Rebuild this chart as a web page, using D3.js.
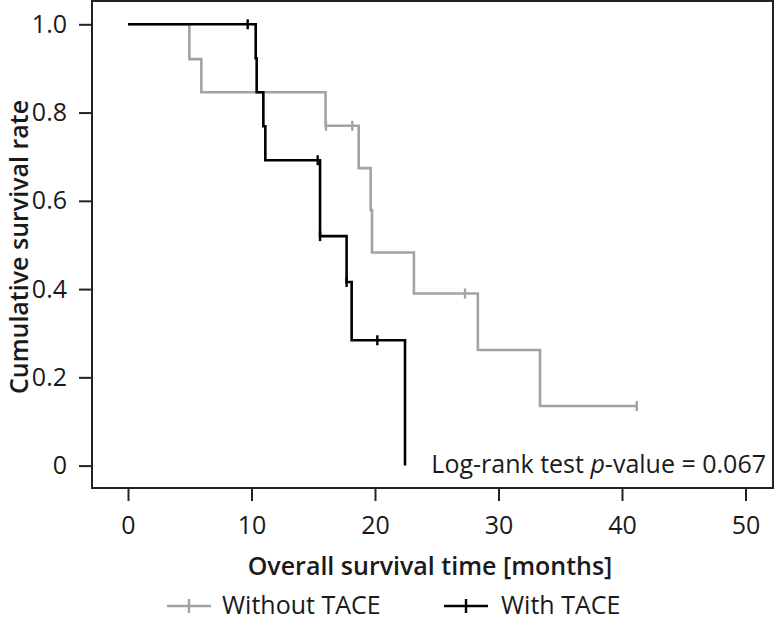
<!DOCTYPE html>
<html>
<head>
<meta charset="utf-8">
<script src="https://cdn.jsdelivr.net/npm/d3@7"></script>
<style>
  html, body { margin: 0; padding: 0; background: #fff; }
  svg { display: block; }
  text { font-family: "Open Sans", sans-serif; fill: #1a1a1a; }
</style>
</head>
<body>
<svg id="chart" width="780" height="621"></svg>
<script>
// ---- Data ----
const seriesNames = ["Without TACE", "With TACE"];
const seriesColors = ["#a3a3a3", "#000000"];

// Without TACE: event times and survival after each step
const withoutTimes = [0, 4.97, 5.94, 16.0, 18.68, 19.65, 19.76, 23.15, 28.33, 33.36];
const withoutSurv  = [1.0, 0.921, 0.846, 0.770, 0.674, 0.579, 0.483, 0.390, 0.262, 0.135];
const withoutEnd = 41.2;
const withoutCensor = [16.03, 18.16, 27.29, 41.2];

// With TACE
const withTimes = [0, 10.34, 10.42, 10.96, 11.12, 15.55, 17.7, 18.11, 22.43];
const withSurv  = [1.0, 0.923, 0.846, 0.769, 0.692, 0.520, 0.416, 0.284, 0.0];
const withEnd = 22.43;
const withCensor = [9.69, 15.36, 15.55, 17.7, 20.19];

const xTicks = [0, 10, 20, 30, 40, 50];
const yTicks = [0, 0.2, 0.4, 0.6, 0.8, 1.0];
const yTickLabels = ["0", "0.2", "0.4", "0.6", "0.8", "1.0"];

// ---- Layout ----
const frame = { left: 92, right: 773, top: 1, bottom: 488 };
const svg = d3.select("#chart");

const x = d3.scaleLinear().domain([0, 50]).range([128, 745.5]);
const y = d3.scaleLinear().domain([0, 1]).range([465.6, 24.3]);

// Frame
svg.append("rect")
  .attr("x", frame.left).attr("y", frame.top)
  .attr("width", frame.right - frame.left)
  .attr("height", frame.bottom - frame.top)
  .attr("fill", "none").attr("stroke", "#222").attr("stroke-width", 2);

// X axis (ticks outside bottom of frame)
const xAxis = d3.axisBottom(x).tickValues(xTicks).tickSize(13).tickPadding(15).tickFormat(d3.format("d"));
const gx = svg.append("g").attr("transform", `translate(0,${frame.bottom})`).call(xAxis);
gx.select(".domain").remove();
gx.selectAll(".tick line").attr("stroke", "#222").attr("stroke-width", 2);
gx.selectAll(".tick text").attr("font-size", 25).attr("font-family", "Open Sans").attr("fill", "#1a1a1a");

// Y axis
const yAxis = d3.axisLeft(y).tickValues(yTicks).tickSize(13).tickPadding(12)
  .tickFormat((d, i) => yTickLabels[i]);
const gy = svg.append("g").attr("transform", `translate(${frame.left},0)`).call(yAxis);
gy.select(".domain").remove();
gy.selectAll(".tick line").attr("stroke", "#222").attr("stroke-width", 2);
gy.selectAll(".tick text").attr("font-size", 25).attr("font-family", "Open Sans").attr("fill", "#1a1a1a");

// Axis titles
svg.append("text")
  .attr("x", 430).attr("y", 575)
  .attr("text-anchor", "middle")
  .attr("font-size", 25).attr("font-weight", 600)
  .text("Overall survival time [months]");

svg.append("text")
  .attr("transform", "translate(28,247) rotate(-90)")
  .attr("text-anchor", "middle")
  .attr("font-size", 25).attr("font-weight", 600)
  .text("Cumulative survival rate");

// Step curves
function stepPoints(times, surv, end) {
  const pts = times.map((t, i) => [t, surv[i]]);
  pts.push([end, surv[surv.length - 1]]);
  return pts;
}
function survAt(times, surv, t) {
  let s = surv[0];
  for (let i = 0; i < times.length; i++) if (times[i] <= t) s = surv[i];
  return s;
}
const line = d3.line().x(d => x(d[0])).y(d => y(d[1])).curve(d3.curveStepAfter);

const series = [
  { times: withoutTimes, surv: withoutSurv, end: withoutEnd, censor: withoutCensor, color: seriesColors[0] },
  { times: withTimes, surv: withSurv, end: withEnd, censor: withCensor, color: seriesColors[1] }
];

series.forEach(s => {
  svg.append("path")
    .datum(stepPoints(s.times, s.surv, s.end))
    .attr("d", line)
    .attr("fill", "none")
    .attr("stroke", s.color)
    .attr("stroke-width", 2.6);
  svg.selectAll(null)
    .data(s.censor)
    .enter().append("line")
    .attr("x1", d => x(d)).attr("x2", d => x(d))
    .attr("y1", d => y(survAt(s.times, s.surv, d)) - 5)
    .attr("y2", d => y(survAt(s.times, s.surv, d)) + 5)
    .attr("stroke", s.color).attr("stroke-width", 2.4);
});

// Log-rank annotation
const ann = svg.append("text")
  .attr("x", 766).attr("y", 473)
  .attr("text-anchor", "end")
  .attr("font-size", 25);
ann.append("tspan").text("Log-rank test ");
ann.append("tspan").attr("font-style", "italic").text("p");
ann.append("tspan").text("-value = 0.067");

// Legend
const legendItems = [
  { name: seriesNames[0], color: seriesColors[0], x0: 167, x1: 211, tx: 222 },
  { name: seriesNames[1], color: seriesColors[1], x0: 444, x1: 488, tx: 501 }
];
const legendY = 606;
legendItems.forEach(it => {
  svg.append("line").attr("x1", it.x0).attr("x2", it.x1)
    .attr("y1", legendY).attr("y2", legendY)
    .attr("stroke", it.color).attr("stroke-width", 2.6);
  const cx = (it.x0 + it.x1) / 2;
  svg.append("line").attr("x1", cx).attr("x2", cx)
    .attr("y1", legendY - 7).attr("y2", legendY + 7)
    .attr("stroke", it.color).attr("stroke-width", 2.4);
  svg.append("text").attr("x", it.tx).attr("y", 614)
    .attr("font-size", 25).text(it.name);
});
</script>
</body>
</html>
